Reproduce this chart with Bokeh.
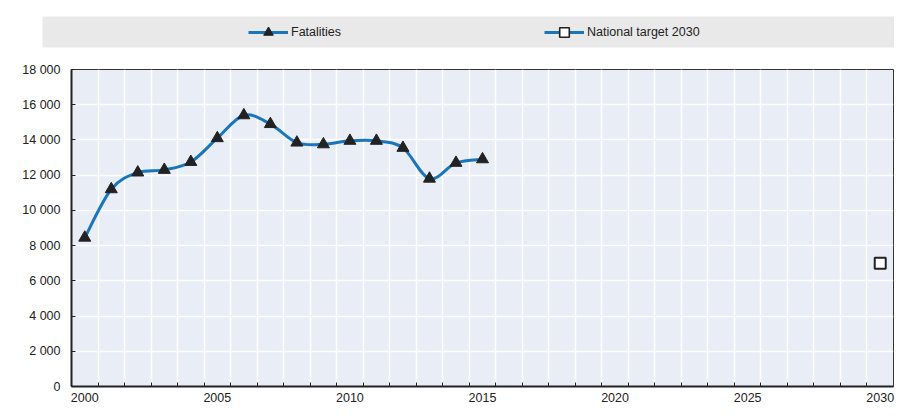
from bokeh.plotting import figure
from bokeh.layouts import column, row
from bokeh.models import (Range1d, FixedTicker, ColumnDataSource, Legend, LegendItem, Spacer)
from bokeh.embed import file_html
from bokeh.resources import INLINE

# ---- data ----
years = [2000, 2001, 2002, 2003, 2004, 2005, 2006, 2007, 2008, 2009, 2010,
         2011, 2012, 2013, 2014, 2015]
fatalities = [8450, 11200, 12150, 12300, 12750, 14100, 15400, 14900, 13850,
              13750, 13950, 13950, 13550, 11800, 12700, 12900]
target_year = [2030]
target_value = [7000]
x_label_years = [2000, 2005, 2010, 2015, 2020, 2025, 2030]
x_tick_labels = ["2000", "2005", "2010", "2015", "2020", "2025", "2030"]
y_ticks = [0, 2000, 4000, 6000, 8000, 10000, 12000, 14000, 16000, 18000]
y_tick_labels = ["0", "2 000", "4 000", "6 000", "8 000", "10 000", "12 000",
                 "14 000", "16 000", "18 000"]
series_names = ["Fatalities", "National target 2030"]

FONT = "'Liberation Sans', Arial, sans-serif"
FS = "12.5px"
BLUE = "#1a76bc"
DARK = "#222222"
TXT = "#222222"

first_year, last_year = 2000, 2030
boundaries = [y + 0.5 for y in range(first_year, last_year)]

# smooth curve (Excel-like) as bezier segments built from the data
n = len(years)
x0, y0, x1, y1, cx0, cy0, cx1, cy1 = [], [], [], [], [], [], [], []
for i in range(n - 1):
    xp, yp = (years[i - 1], fatalities[i - 1]) if i > 0 else (years[i], fatalities[i])
    xn2, yn2 = (years[i + 2], fatalities[i + 2]) if i + 2 < n else (years[i + 1], fatalities[i + 1])
    xa, ya = years[i], fatalities[i]
    xb, yb = years[i + 1], fatalities[i + 1]
    x0.append(xa); y0.append(ya); x1.append(xb); y1.append(yb)
    cx0.append(xa + (xb - xp) / 6.0); cy0.append(ya + (yb - yp) / 6.0)
    cx1.append(xb - (xn2 - xa) / 6.0); cy1.append(yb - (yn2 - ya) / 6.0)
bez_src = ColumnDataSource(dict(x0=x0, y0=y0, x1=x1, y1=y1,
                                cx0=cx0, cy0=cy0, cx1=cx1, cy1=cy1))

# ---- legend strip (top figure); its renderers carry the series but lie off-range ----
top = figure(width=852, height=56, x_range=Range1d(0, 1), y_range=Range1d(0, 1),
             x_axis_type=None, y_axis_type=None,
             output_backend="svg", toolbar_location=None,
             min_border_left=0, min_border_right=0,
             min_border_top=16, min_border_bottom=9)
top.background_fill_color = "#e9e9e9"
top.border_fill_color = "white"
top.outline_line_color = None
top.grid.visible = False

lg_line1 = top.line(years, fatalities, line_color=BLUE, line_width=3)
lg_tri = top.scatter(years, fatalities, marker="triangle", size=12,
                     fill_color=DARK, line_color=DARK)
lg_line2 = top.line(target_year, target_value, line_color=BLUE, line_width=3)
lg_sq = top.scatter(target_year, target_value, marker="square", size=9,
                    fill_color="white", line_color=DARK, line_width=1.6)

leg = Legend(items=[LegendItem(label=series_names[0], renderers=[lg_line1, lg_tri]),
                    LegendItem(label=series_names[1], renderers=[lg_line2, lg_sq])],
             location=(206, 3), orientation="horizontal",
             glyph_width=40, glyph_height=24, label_height=24,
             label_standoff=3, label_width=200,
             spacing=53, padding=0, margin=0,
             background_fill_alpha=0, border_line_color=None,
             label_text_font=FONT, label_text_font_size=FS,
             label_text_color=TXT)
top.add_layout(leg)

# ---- main chart ----
p = figure(width=900, height=356,
           x_range=Range1d(first_year - 0.5, last_year + 0.5),
           y_range=Range1d(0, 18000),
           output_backend="svg", toolbar_location=None,
           min_border_left=71, min_border_right=7,
           min_border_top=13, min_border_bottom=26)

p.background_fill_color = "#e9edf6"
p.border_fill_color = "white"
p.outline_line_color = "#333333"
p.outline_line_width = 1

p.xgrid.ticker = FixedTicker(ticks=boundaries)
p.xgrid.grid_line_color = "white"
p.xgrid.grid_line_width = 1.5
p.ygrid.ticker = FixedTicker(ticks=y_ticks)
p.ygrid.grid_line_color = "white"
p.ygrid.grid_line_width = 1.5

xa_ = p.xaxis[0]
xa_.ticker = FixedTicker(ticks=x_label_years, minor_ticks=boundaries)
xa_.major_label_overrides = {y: l for y, l in zip(x_label_years, x_tick_labels)}
xa_.major_tick_line_color = None
xa_.minor_tick_in = 4
xa_.minor_tick_out = 0
xa_.minor_tick_line_color = DARK
xa_.axis_line_color = DARK
xa_.axis_line_width = 2
xa_.major_label_standoff = 0
xa_.major_label_text_font = FONT
xa_.major_label_text_font_size = FS
xa_.major_label_text_color = TXT

ya_ = p.yaxis[0]
ya_.ticker = FixedTicker(ticks=y_ticks)
ya_.major_label_overrides = {v: l for v, l in zip(y_ticks, y_tick_labels)}
ya_.major_tick_in = 4
ya_.major_tick_out = 0
ya_.major_tick_line_color = DARK
ya_.minor_tick_line_color = None
ya_.axis_line_color = DARK
ya_.axis_line_width = 2
ya_.major_label_standoff = 11
ya_.major_label_text_font = FONT
ya_.major_label_text_font_size = FS
ya_.major_label_text_color = TXT

p.bezier(x0="x0", y0="y0", x1="x1", y1="y1", cx0="cx0", cy0="cy0",
         cx1="cx1", cy1="cy1", source=bez_src, line_color=BLUE, line_width=3)
p.scatter(years, fatalities, marker="triangle", size=12,
          fill_color=DARK, line_color=DARK, line_width=1)
p.line(target_year, target_value, line_color=BLUE, line_width=3)
p.scatter(target_year, target_value, marker="square", size=11,
          fill_color="white", line_color=DARK, line_width=2)

layout = column(row(Spacer(width=42, height=56), top, spacing=0), p, spacing=0)
open("out.html", "w").write(file_html(layout, INLINE))
